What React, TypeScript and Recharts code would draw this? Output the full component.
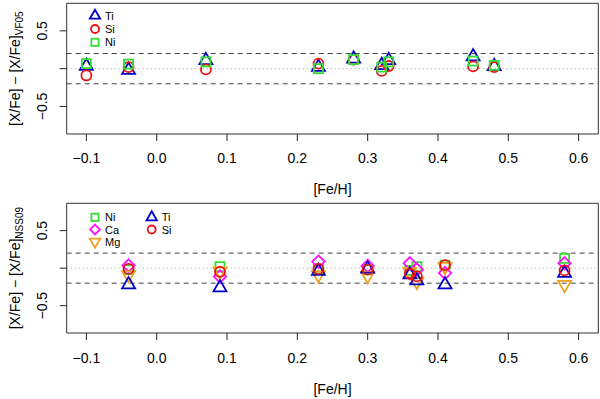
import { ScatterChart, Scatter, XAxis, YAxis, ReferenceLine, ReferenceArea, Legend } from "recharts";

// upper panel: differences against VF05
const vfFeH = [-0.1, -0.04, 0.07, 0.23, 0.28, 0.32, 0.33, 0.45, 0.48];
const vfTi = [0.035, -0.02, 0.11, 0.02, 0.13, 0.044, 0.11, 0.16, 0.03];
const vfSi = [-0.09, 0.02, -0.01, 0.066, 0.12, -0.03, 0.035, 0.03, 0.02];
const vfNi = [0.066, 0.06, 0.09, 0.0, 0.12, 0.02, 0.09, 0.1, 0.044];

// lower panel: differences against NSS09
const nssFeH = [-0.04, 0.09, 0.23, 0.3, 0.36, 0.37, 0.41, 0.58];
const nssNi = [-0.02, 0.02, -0.01, -0.02, -0.03, 0.02, 0.04, 0.13];
const nssCa = [0.035, -0.11, 0.087, 0.03, 0.065, -0.02, -0.065, 0.065];
const nssMg = [-0.09, -0.04, -0.09, -0.1, -0.05, -0.18, 0.02, -0.22];
const nssTi = [-0.22, -0.26, -0.04, -0.01, -0.087, -0.165, -0.22, -0.065];
const nssSi = [-0.01, -0.05, -0.01, -0.02, -0.075, -0.11, 0.04, -0.03];

const xTicks = [-0.1, 0, 0.1, 0.2, 0.3, 0.4, 0.5, 0.6];
const yTicks = [-0.5, 0, 0.5];

const FONT = "'Liberation Sans', Arial, Helvetica, sans-serif";
const colors: Record<string, string> = {
  Ti: "#0000c8",
  Si: "#ee1010",
  Ni: "#33dd33",
  Ca: "#ff10ff",
  Mg: "#f0a020",
};
const shapes: Record<string, string> = { Ti: "up", Si: "circle", Ni: "square", Ca: "diamond", Mg: "down" };

const pts = (xs: number[], ys: number[]) => xs.map((x, i) => ({ x, y: ys[i] }));
const fmt = (v: number) => (v < 0 ? "\u2212" + Math.abs(v).toFixed(1) : v.toFixed(1));

function Glyph({ kind, color, cx, cy, s = 1 }: any) {
  const st = { fill: "none", stroke: color, strokeWidth: 1.8 };
  if (kind === "circle") return <circle cx={cx} cy={cy} r={5 * s} {...st} />;
  if (kind === "square")
    return <rect x={cx - 4.5 * s} y={cy - 4.5 * s} width={9 * s} height={9 * s} {...st} />;
  if (kind === "diamond") {
    const d = 6.2 * s;
    return <polygon points={`${cx},${cy - d} ${cx + d},${cy} ${cx},${cy + d} ${cx - d},${cy}`} {...st} />;
  }
  const r = 7.5 * s, h = 6.5 * s, b = 3.75 * s;
  const k = kind === "up" ? 1 : -1;
  return <polygon points={`${cx},${cy - k * r} ${cx + h},${cy + k * b} ${cx - h},${cy + k * b}`} {...st} />;
}

const XTick = ({ x, payload }: any) => (
  <text x={x} y={158} textAnchor="middle" dominantBaseline="central" fontSize={14} fill="#000" fontFamily={FONT}>
    {fmt(payload.value)}
  </text>
);

const YTick = ({ y, payload }: any) =>
  payload.value === 0 ? (
    <g />
  ) : (
    <text x={42} y={y} transform={`rotate(-90, 42, ${y})`} textAnchor="middle" dominantBaseline="central" fontSize={14} fill="#000" fontFamily={FONT}>
      {fmt(payload.value)}
    </text>
  );

interface PanelProps {
  top: number;
  height: number;
  sub: string;
  series: { name: string; data: { x: number; y: number }[] }[];
  legend: { name: string; col: number; row: number }[];
  rowGap: number;
  row0: number;
}

function Panel({ top, height, sub, series, legend, rowGap, row0 }: PanelProps) {
  const plotMid = (3.3 + height - 66) / 2;
  return (
    <div style={{ position: "absolute", left: 0, top }}>
      <ScatterChart width={600} height={height} margin={{ top: 3.3, right: 1.7, bottom: 0, left: 0 }}>
        <XAxis
          type="number"
          dataKey="x"
          domain={[-0.128, 0.628]}
          ticks={xTicks}
          allowDataOverflow
          axisLine={false}
          tickSize={7}
          tickLine={{ stroke: "#222" }}
          tick={<XTick />}
          height={66}
          label={{
            content: () => (
              <text x={332.5} y={189} textAnchor="middle" dominantBaseline="central" fontSize={14} fontFamily={FONT}>
                [Fe/H]
              </text>
            ),
          }}
        />
        <YAxis
          type="number"
          dataKey="y"
          domain={[-0.864, 0.864]}
          ticks={yTicks}
          allowDataOverflow
          axisLine={false}
          tickSize={7}
          tickLine={{ stroke: "#222" }}
          tick={<YTick />}
          width={66.7}
          label={{
            content: () => (
              <text
                x={15}
                y={plotMid}
                transform={`rotate(-90, 15, ${plotMid})`}
                textAnchor="middle"
                dominantBaseline="central"
                fontSize={14}
                fontFamily={FONT}
              >
                <tspan>[X/Fe] {"\u2212"} [X/Fe]</tspan>
                <tspan dy={4} fontSize={10}>{sub}</tspan>
              </text>
            ),
          }}
        />
        <ReferenceArea x1={-0.128} x2={0.628} y1={-0.864} y2={0.864} fill="none" stroke="#333" strokeWidth={1} />
        <ReferenceLine y={0.2} stroke="#444" strokeDasharray="5 4" />
        <ReferenceLine y={-0.2} stroke="#444" strokeDasharray="5 4" />
        <ReferenceLine y={0} stroke="#999" strokeDasharray="1 3" />
        {series.map((s) => (
          <Scatter
            key={s.name}
            name={s.name}
            data={s.data}
            isAnimationActive={false}
            shape={(p: any) => <Glyph kind={shapes[s.name]} color={colors[s.name]} cx={p.cx} cy={p.cy} />}
          />
        ))}
        <Legend
          layout="horizontal"
          verticalAlign="middle"
          align="center"
          wrapperStyle={{ position: "absolute", left: 80, top: 5, width: 130, height: 50 }}
          content={() => (
            <svg width={130} height={50}>
              {legend.map((l) => {
                const cx = 15 + l.col * 56.7;
                const cy = row0 + l.row * rowGap;
                return (
                  <g key={l.name}>
                    <Glyph kind={shapes[l.name]} color={colors[l.name]} cx={cx} cy={cy} s={0.8} />
                    <text x={cx + 10} y={cy} dominantBaseline="central" fontSize={11} fontFamily={FONT}>
                      {l.name}
                    </text>
                  </g>
                );
              })}
            </svg>
          )}
        />
      </ScatterChart>
    </div>
  );
}

export default function App() {
  return (
    <div style={{ position: "absolute", left: 0, top: 0, width: 600, height: 399, background: "#fff" }}>
      <Panel
        top={0}
        height={200}
        sub="VF05"
        series={[
          { name: "Ti", data: pts(vfFeH, vfTi) },
          { name: "Si", data: pts(vfFeH, vfSi) },
          { name: "Ni", data: pts(vfFeH, vfNi) },
        ]}
        legend={[
          { name: "Ti", col: 0, row: 0 },
          { name: "Si", col: 0, row: 1 },
          { name: "Ni", col: 0, row: 2 },
        ]}
        row0={10.7}
        rowGap={13.3}
      />
      <Panel
        top={200}
        height={199}
        sub="NSS09"
        series={[
          { name: "Ni", data: pts(nssFeH, nssNi) },
          { name: "Ca", data: pts(nssFeH, nssCa) },
          { name: "Mg", data: pts(nssFeH, nssMg) },
          { name: "Ti", data: pts(nssFeH, nssTi) },
          { name: "Si", data: pts(nssFeH, nssSi) },
        ]}
        legend={[
          { name: "Ni", col: 0, row: 0 },
          { name: "Ca", col: 0, row: 1 },
          { name: "Mg", col: 0, row: 2 },
          { name: "Ti", col: 1, row: 0 },
          { name: "Si", col: 1, row: 1 },
        ]}
        row0={12.3}
        rowGap={12.2}
      />
    </div>
  );
}
